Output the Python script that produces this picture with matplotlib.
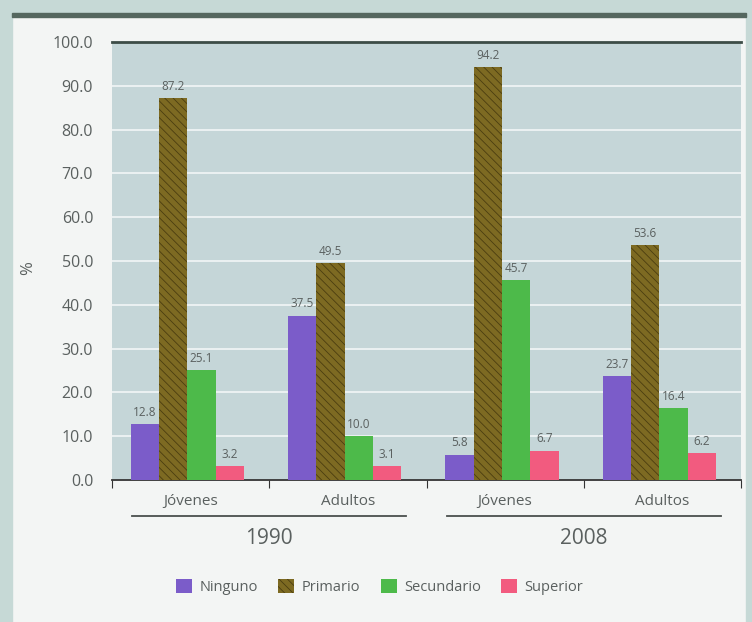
import matplotlib
matplotlib.use("Agg")
import matplotlib.pyplot as plt
import numpy as np
from matplotlib.patches import Rectangle

# data
categories = ["Jóvenes", "Adultos", "Jóvenes", "Adultos"]
years = ["1990", "2008"]
series = ["Ninguno", "Primario", "Secundario", "Superior"]
ninguno = [12.8, 37.5, 5.8, 23.7]
primario = [87.2, 49.5, 94.2, 53.6]
secundario = [25.1, 10.0, 45.7, 16.4]
superior = [3.2, 3.1, 6.7, 6.2]
yticks = [0, 10, 20, 30, 40, 50, 60, 70, 80, 90, 100]

COLORS = ["#7b5cc9", "#7d6a22", "#4dba4a", "#f25b7f"]
TEXT = "#5a605f"

plt.rcParams["font.family"] = ["Open Sans", "DejaVu Sans"]
plt.rcParams["hatch.linewidth"] = 0.6

fig = plt.figure(figsize=(7.52, 6.22), dpi=100, facecolor="#f3f5f4")
# scanned page frame: teal bands and dark rule at top
fig.patches.append(Rectangle((0, 0), 12 / 752, 1, transform=fig.transFigure,
                             color="#c6d9d6", zorder=0))
fig.patches.append(Rectangle((746 / 752, 0), 6 / 752, 1, transform=fig.transFigure,
                             color="#c6d9d6", zorder=0))
fig.patches.append(Rectangle((0, 1 - 13 / 622), 1, 13 / 622, transform=fig.transFigure,
                             color="#c6d9d6", zorder=0))
fig.patches.append(Rectangle((12 / 752, 1 - 17 / 622), 734 / 752, 4 / 622,
                             transform=fig.transFigure, color="#55675f", zorder=1))

ax = fig.add_axes([112 / 752, 1 - 480 / 622, 629 / 752, 438 / 622])
ax.set_facecolor("#c5d6d8")

x = np.arange(len(categories))
w = 0.18
values = [ninguno, primario, secundario, superior]
for i, (name, vals) in enumerate(zip(series, values)):
    pos = x - 0.02 + (i - 1.5) * w
    if name == "Primario":
        bars = ax.bar(pos, vals, w, color=COLORS[i], edgecolor="#4a3d10",
                      linewidth=0, hatch="\\\\\\\\", label=name, zorder=3)
    else:
        bars = ax.bar(pos, vals, w, color=COLORS[i], linewidth=0,
                      label=name, zorder=3)
    for b, v in zip(bars, vals):
        ax.text(b.get_x() + b.get_width() / 2, v + 1.2, f"{v:.1f}",
                ha="center", va="bottom", fontsize=8.5, color=TEXT, zorder=4)

ax.set_ylim(0, 100)
ax.set_xlim(-0.5, 3.5)
ax.set_yticks(yticks)
ax.set_yticklabels([f"{t:.1f}" for t in yticks], fontsize=11.5, color=TEXT)
ax.tick_params(axis="y", length=0, pad=13.5)
ax.grid(axis="y", color="white", linewidth=1.1, alpha=0.85, zorder=1)
fig.text(28 / 752, 1 - 268 / 622, "%", rotation=90, ha="center", va="center",
         fontsize=12, color=TEXT)

ax.set_xticks(np.arange(-0.5, 4, 1))
ax.set_xticklabels([])
ax.tick_params(axis="x", which="major", length=6, color="#333333", direction="out")
ax.set_xticks(x, minor=True)
ax.set_xticklabels(categories, minor=True, fontsize=11, color=TEXT)
ax.tick_params(axis="x", which="minor", length=0, pad=10)

for side in ["left", "right"]:
    ax.spines[side].set_visible(False)
ax.spines["top"].set_color("#3d4c47")
ax.spines["top"].set_linewidth(2)
ax.spines["bottom"].set_color("#333333")
ax.spines["bottom"].set_linewidth(1.3)

# year group rules and labels under the category names
trans = ax.get_xaxis_transform()
for j, yr in enumerate(years):
    c = 0.5 + 2 * j
    ax.plot([c - 0.87, c + 0.87], [-0.082, -0.082], transform=trans,
            color="#4a4f4d", linewidth=1.3, clip_on=False)
    ax.text(c, -0.133, yr, transform=trans, ha="center", va="center",
            fontsize=15, color=TEXT)

fig.legend(loc="center", bbox_to_anchor=(0.505, 1 - 587 / 622), ncol=4,
           frameon=False, fontsize=10.5, handlelength=1.1, handleheight=1.1,
           handletextpad=0.5, columnspacing=1.4, labelcolor=TEXT)

fig.savefig("out.png", dpi=100, facecolor=fig.get_facecolor())
